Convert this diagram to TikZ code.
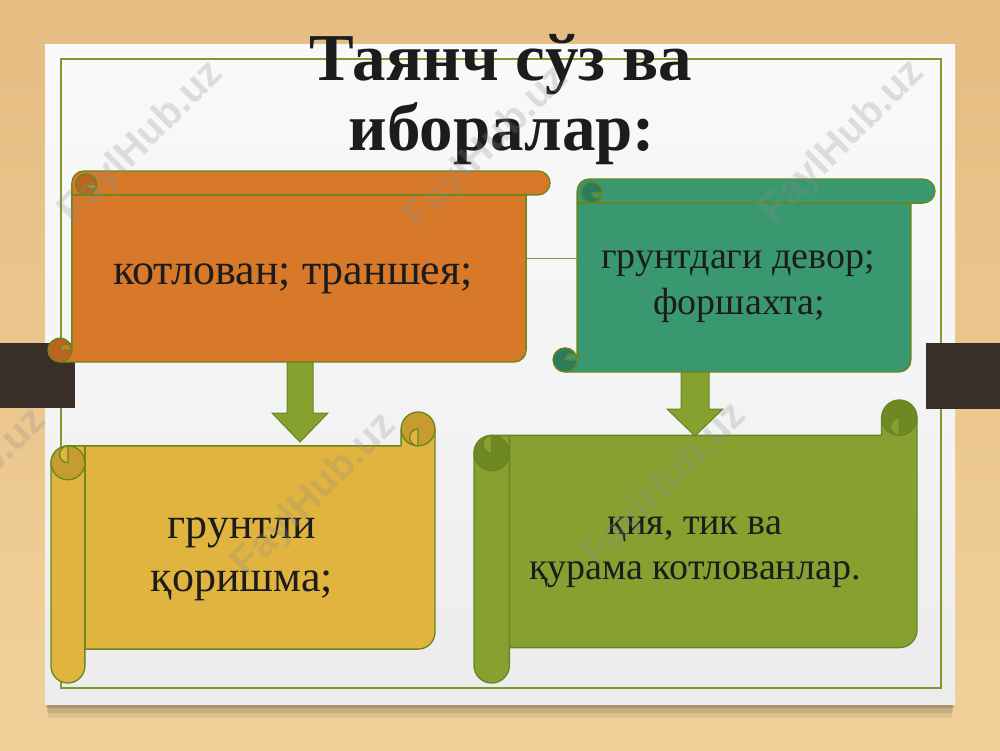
\documentclass[tikz,border=0pt]{standalone}
\usepackage{fontspec}
\setmainfont{Liberation Serif}
\newfontfamily\wmfont{Liberation Sans}
\definecolor{woodtop}{RGB}{229,188,130}
\definecolor{woodbot}{RGB}{241,209,154}
\definecolor{slidetop}{RGB}{249,249,249}
\definecolor{slidebot}{RGB}{236,236,236}
\definecolor{framec}{RGB}{126,154,46}
\definecolor{outl}{RGB}{104,134,32}
\definecolor{orangeM}{RGB}{216,121,41}
\definecolor{orangeD}{RGB}{186,100,32}
\definecolor{tealM}{RGB}{58,152,112}
\definecolor{tealD}{RGB}{44,124,92}
\definecolor{yellowM}{RGB}{224,180,62}
\definecolor{yellowD}{RGB}{198,156,48}
\definecolor{greenM}{RGB}{136,160,48}
\definecolor{greenD}{RGB}{112,136,36}
\definecolor{arrowc}{RGB}{134,161,46}
\definecolor{barc}{RGB}{58,47,40}
\definecolor{txt}{RGB}{28,28,28}
\tikzset{
  scrollline/.style={draw=outl, line width=1.3pt, line join=round},
  bodytext/.style={text=txt, inner sep=0pt, anchor=base, font=\fontsize{44}{48}\selectfont},
  smalltext/.style={text=txt, inner sep=0pt, anchor=base, font=\fontsize{38}{44}\selectfont},
  titletext/.style={text=txt, inner sep=0pt, anchor=base, font=\bfseries\fontsize{67}{70}\selectfont},
  blockarrow/.style={fill=arrowc, draw=outl, line width=1pt, line join=miter},
  watermark/.style={text=black!45, opacity=0.25, rotate=45, inner sep=0pt, font=\wmfont\bfseries\fontsize{40}{40}\selectfont},
  linkline/.style={draw=framec, line width=1pt},
  framebox/.style={draw=framec, line width=1.6pt},
  darkbar/.style={fill=barc},
}
% horizontal scroll: L T R B main dark
\newcommand\HScroll[6]{%
  \pgfmathsetmacro\scL{#1}\pgfmathsetmacro\scT{#2}\pgfmathsetmacro\scR{#3}\pgfmathsetmacro\scB{#4}%
  \pgfmathsetmacro\scC{0.125*min(\scR-\scL,\scB-\scT)}\pgfmathsetmacro\scH{\scC/2}%
  \filldraw[scrollline,fill=#5] (\scL+\scC,\scT+\scC) -- (\scR-\scC,\scT+\scC) -- (\scR-\scC,\scB-\scH) arc[start angle=0,end angle=90,radius=\scH] -- (\scL+\scH,\scB) -- (\scL+\scH,\scB-\scH) -- (\scL+\scC,\scB-\scH) -- cycle;
  \filldraw[scrollline,fill=#5] (\scL+\scC,\scT+\scC) -- (\scL+\scC,\scT+\scH) arc[start angle=180,end angle=270,radius=\scH] -- (\scR-\scH,\scT) arc[start angle=270,end angle=450,radius=\scH] -- cycle;
  \filldraw[scrollline,fill=#6] (\scL+1.6*\scC,\scT+0.56*\scC) circle[radius=0.44*\scC];
  \filldraw[scrollline,fill=#5] (\scL+1.6*\scC,\scT+0.56*\scC) -- (\scL+2.04*\scC,\scT+0.56*\scC) arc[start angle=0,end angle=180,radius=0.22*\scC] -- cycle;
  \filldraw[scrollline,fill=#6] (\scL+\scH,\scB-\scH) circle[radius=\scH];
  \filldraw[scrollline,fill=#5] (\scL+\scH,\scB-\scH) arc[start angle=180,end angle=360,radius=\scH/2] -- cycle;
}
% vertical scroll: L T R B main dark
\newcommand\VScroll[6]{%
  \pgfmathsetmacro\scL{#1}\pgfmathsetmacro\scT{#2}\pgfmathsetmacro\scR{#3}\pgfmathsetmacro\scB{#4}%
  \pgfmathsetmacro\scC{0.125*min(\scR-\scL,\scB-\scT)}\pgfmathsetmacro\scH{\scC/2}%
  \filldraw[scrollline,fill=#5] (\scL+\scC,\scT+\scC) -- (\scR-\scC,\scT+\scC) -- (\scR-\scC,\scT+\scH) -- (\scR,\scT+\scH) -- (\scR,\scB-\scC-\scH) arc[start angle=0,end angle=90,radius=\scH] -- (\scL+\scC,\scB-\scC) -- cycle;
  \filldraw[scrollline,fill=#6] (\scR-\scH,\scT+\scH) circle[radius=\scH];
  \filldraw[scrollline,fill=#5] (\scR-\scH,\scT+\scH) arc[start angle=270,end angle=90,radius=\scH/2] -- cycle;
  \filldraw[scrollline,fill=#5] (\scL+\scC,\scT+\scC) -- (\scL+\scH,\scT+\scC) arc[start angle=270,end angle=180,radius=\scH] -- (\scL,\scB-\scH) arc[start angle=180,end angle=0,radius=\scH] -- cycle;
  \filldraw[scrollline,fill=#6] (\scL+\scH,\scT+\scC+\scH) circle[radius=\scH];
  \filldraw[scrollline,fill=#5] (\scL+\scH,\scT+\scC) arc[start angle=270,end angle=90,radius=\scH/2] -- cycle;
}
\begin{document}
\begin{tikzpicture}[x=1pt,y=-1pt]
\useasboundingbox (0,0) rectangle (1000,750);
% wood background
\shade[top color=woodtop, bottom color=woodbot] (0,0) rectangle (1000,750);
% slide shadow and slide
\fill[black,opacity=0.08] (48,46) rectangle (952,718);
\fill[black,opacity=0.10] (47,46) rectangle (953,713);
\fill[black,opacity=0.14] (46,46) rectangle (954,708);
\shade[top color=slidetop, bottom color=slidebot, middle color=slidetop!98!black] (45,44) rectangle (955,704);
\draw[framebox] (61,59) rectangle (941,688);
% side bars
\fill[darkbar] (0,343) rectangle (75,408);
\fill[darkbar] (926,343) rectangle (1000,409);
% connector between the top scrolls
\coordinate (orangeR) at (527,258);
\coordinate (tealL) at (577,258);
\draw[linkline] (orangeR) -- (tealL);
% scrolls
\HScroll{48}{171}{550}{362}{orangeM}{orangeD}
\HScroll{553}{179}{935}{372}{tealM}{tealD}
\VScroll{51}{412}{435}{683}{yellowM}{yellowD}
\VScroll{474}{400}{917}{683}{greenM}{greenD}
% block arrows
\coordinate (orangeB) at (300,362);
\coordinate (tealB) at (695,372);
\filldraw[blockarrow] (orangeB) ++(-13,0) -- ++(0,51) -- ++(-15,0) -- ++(28,29) -- ++(28,-29) -- ++(-15,0) -- ++(0,-51) -- cycle;
\filldraw[blockarrow] (tealB) ++(-14,0) -- ++(0,37) -- ++(-14,0) -- ++(28,27) -- ++(28,-27) -- ++(-14,0) -- ++(0,-37) -- cycle;
% title
\node[titletext] (title1) at (501,80) {Таянч сўз ва};
\node[titletext] (title2) at (502,150) {иборалар:};
% texts
\node[bodytext] (orangeText) at (293,284) {котлован; траншея;};
\node[smalltext] (tealText1) at (738,268) {грунтдаги девор;};
\node[smalltext] (tealText2) at (739,314) {форшахта;};
\node[bodytext] (yellowText1) at (242,538) {грунтли};
\node[bodytext] (yellowText2) at (242,591) {қоришма;};
\node[smalltext] (greenText1) at (695,534) {қия, тик ва};
\node[smalltext] (greenText2) at (695,579) {қурама котлованлар.};
% watermarks
\node[watermark] (wm1) at (142,143) {FaylHub.uz};
\node[watermark] (wm2) at (487,148) {FaylHub.uz};
\node[watermark] (wm3) at (843,142) {FaylHub.uz};
\node[watermark] (wm4) at (-35,490) {FaylHub.uz};
\node[watermark] (wm5) at (315,495) {FaylHub.uz};
\node[watermark] (wm6) at (665,485) {FaylHub.uz};
\end{tikzpicture}
\end{document}
